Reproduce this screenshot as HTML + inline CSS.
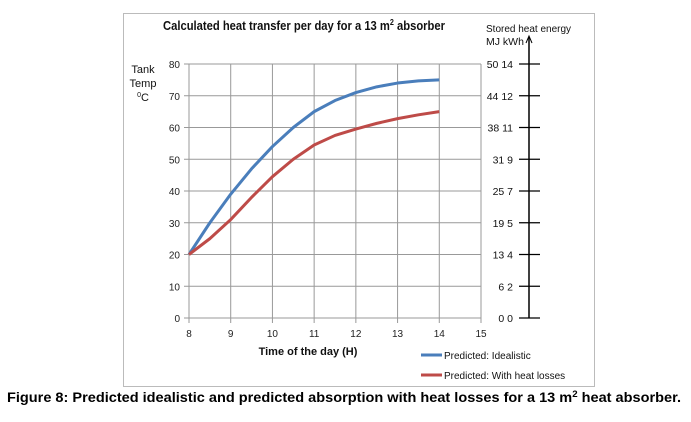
<!DOCTYPE html>
<html><head><meta charset="utf-8"><style>
body{margin:0;background:#fff;width:691px;height:417px;overflow:hidden;font-family:"Liberation Sans",sans-serif}
svg text{font-family:"Liberation Sans",sans-serif}
</style></head><body>
<svg id="chart" width="691" height="417" xmlns="http://www.w3.org/2000/svg">
<rect x="123.5" y="13.5" width="471" height="373" fill="#fff" stroke="#bbb"/>
<text x="163" y="30" font-size="12.5" font-weight="bold" fill="#111" textLength="282" lengthAdjust="spacingAndGlyphs">Calculated heat transfer per day for a 13 m<tspan font-size="8" dy="-5">2</tspan><tspan dy="5"> absorber</tspan></text>
<text x="143" y="73" font-size="11" text-anchor="middle" fill="#111">Tank</text>
<text x="143" y="87" font-size="11" text-anchor="middle" fill="#111">Temp</text>
<text x="143" y="101" font-size="11" text-anchor="middle" fill="#111"><tspan font-size="7" dy="-4">0</tspan><tspan dy="4">C</tspan></text>
<g id="grid"></g><g id="series"></g>
<text x="308" y="355" font-size="11" font-weight="bold" text-anchor="middle" fill="#111">Time of the day (H)</text>
<text x="486" y="32" font-size="10" fill="#111">Stored heat energy</text>
<text x="486" y="45" font-size="10.5" fill="#111">MJ  kWh</text>
<line x1="529" y1="37" x2="529" y2="318" stroke="#000" stroke-width="1.5"/>
<path d="M526 43 L529 36 L532 43" fill="none" stroke="#000"/>
<g id="right"></g>
<g>
<line x1="421" y1="355" x2="442" y2="355" stroke="#4a7ebb" stroke-width="3"/>
<text x="444" y="359" font-size="10" fill="#111">Predicted: Idealistic</text>
<line x1="421" y1="375" x2="442" y2="375" stroke="#be4b48" stroke-width="3"/>
<text x="444" y="379" font-size="10" fill="#111">Predicted: With heat losses</text>
</g>
<text x="7" y="402" font-size="13.5" font-weight="bold" fill="#000" textLength="674" lengthAdjust="spacingAndGlyphs">Figure 8: Predicted idealistic and predicted absorption with heat losses for a 13 m<tspan font-size="9" dy="-5">2</tspan><tspan dy="5"> heat absorber.</tspan></text>
</svg>
<script>
const hours=[8,8.5,9,9.5,10,10.5,11,11.5,12,12.5,13,13.5,14];
const idealistic=[20,30,39,47,54,60,65,68.5,71,72.8,74,74.7,75];
const withLosses=[20,25,31,38,44.5,50,54.5,57.5,59.5,61.3,62.8,64,65];
const xTicks=[8,9,10,11,12,13,14,15];
const yTicks=[0,10,20,30,40,50,60,70,80];
const rightLabels=["0 0","6 2","13 4","19 5","25 7","31 9","38 11","44 12","50 14"];
const NS="http://www.w3.org/2000/svg";
const X=v=>189+(v-8)*(292/7), Y=v=>318-v*(254/80);
function mk(t,a,p){const e=document.createElementNS(NS,t);for(const k in a)e.setAttribute(k,a[k]);p.appendChild(e);return e;}
const g=document.getElementById('grid'),s=document.getElementById('series'),r=document.getElementById('right');
yTicks.forEach(v=>{
 const l=mk('line',{x1:184,x2:481,y1:Y(v),y2:Y(v),stroke:'#999'},g);
 
 const t=mk('text',{x:180,y:Y(v)+4,'font-size':10,'text-anchor':'end',fill:'#222'},g);t.textContent=v;
 
});
xTicks.forEach(v=>{
 const l=mk('line',{x1:X(v),x2:X(v),y1:Y(80),y2:Y(0)+5,stroke:'#999'},g);
 
 const t=mk('text',{x:X(v),y:337,'font-size':10,'text-anchor':'middle',fill:'#222'},g);t.textContent=v;
 
});
[[idealistic,'#4a7ebb','idealistic-line'],[withLosses,'#be4b48','losses-line']].forEach(([d,c,n])=>{
 const p=mk('polyline',{points:hours.map((h,i)=>X(h)+','+Y(d[i])).join(' '),fill:'none',stroke:c,'stroke-width':3,'stroke-linejoin':'round'},s);
 
});
rightLabels.forEach((lab,i)=>{
 const y=Y(yTicks[i]);
 const l=mk('line',{x1:519,x2:540,y1:y,y2:y,stroke:'#000','stroke-width':1.2},r);
 
 const t=mk('text',{x:513,y:y+4,'font-size':10.5,'text-anchor':'end',fill:'#111'},r);t.textContent=lab;
 
});
</script>
</body></html>
